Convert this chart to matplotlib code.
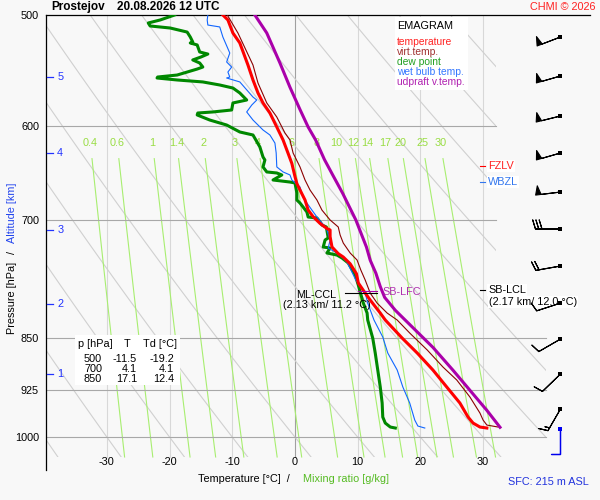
import numpy as np
import matplotlib
matplotlib.use("Agg")
import matplotlib.pyplot as plt
from matplotlib.patches import Rectangle, Polygon
from matplotlib.ticker import NullLocator
import matplotlib.transforms as mtransforms

plt.rcParams['font.family'] = ['Liberation Sans', 'DejaVu Sans']
FS = 7.8

# ---------------- data ----------------
temp_p = [500, 504.1, 515.0, 523.5, 542.8, 556.3, 568.3, 577.7, 587.3, 601.0,
          613.9, 627.5, 638.0, 652.0, 659.5, 666.5, 677.5, 688.8, 696.4, 704.1,
          710.0, 711.7, 719.6, 731.8, 739.9, 744.0, 752.3, 758.5, 764.7, 776.5,
          789.4, 798.5, 815.7, 825.1, 850.0, 871.1, 895.7, 921.0, 945.6, 967.6,
          977.2, 983.6, 985.2]
temp_T = [-11.5, -10.7, -9.9, -8.8, -7.5, -6.7, -5.9, -5.1, -4.0, -2.9,
          -1.9, -1.1, -0.5, 0.0, 0.3, 0.8, 1.6, 2.1, 2.9, 4.0,
          5.1, 5.6, 5.6, 5.9, 6.9, 7.7, 8.8, 9.3, 9.8, 10.1,
          11.2, 12.0, 13.6, 14.4, 17.1, 19.5, 22.0, 24.2, 26.3, 27.6,
          28.4, 29.5, 30.6]

virt_p = [500, 515.0, 542.8, 559.1, 577.7, 591.2, 606.9, 613.9, 627.2, 641.7,
          655.6, 666.5, 677.5, 688.8, 700.1, 708.2, 717.6, 727.1, 739.1, 747.7,
          760.1, 772.7, 789.4, 802.5, 815.7, 825.1, 842.9, 866.8, 891.3, 910.5,
          936.3, 961.3, 972.4, 980.4, 983.6]
virt_T = [-10.8, -9.1, -6.7, -5.9, -4.5, -2.9, -1.6, -0.8, -0.3, 0.8,
          1.6, 2.4, 3.5, 4.3, 5.6, 6.9, 7.2, 7.7, 8.8, 9.9,
          10.5, 11.2, 12.0, 13.1, 14.7, 16.3, 18.3, 21.1, 23.6, 25.8,
          27.9, 29.5, 30.0, 30.6, 32.4]

dew_p = [500, 504.1, 506.6, 509.1, 510.8, 514.2, 518.4, 522.7, 523.5, 525.2,
         531.3, 533.1, 535.7, 538.3, 541.0, 544.6, 546.4, 549.1, 551.8, 553.6,
         554.5, 556.3, 558.1, 560.9, 563.7, 568.3, 574.9, 577.7, 584.4, 586.3,
         587.3, 589.2, 594.1, 599.0, 605.9, 608.9, 621.0, 631.3, 634.4, 641.7,
         647.0, 648.1, 650.2, 655.6, 657.8, 658.8, 669.8, 677.5, 680.9, 685.4,
         691.0, 696.7, 697.8, 702.4, 705.9, 708.2, 721.1, 723.5, 731.9, 733.1,
         739.1, 741.6, 745.2, 750.1, 751.4, 766.3, 779.1, 788.1, 802.5, 815.7,
         825.1, 850.0, 871.1, 895.7, 921.0, 945.6, 967.6, 977.2, 983.6, 985.2]
dew_T = [-19.2, -21.5, -23.4, -23.1, -19.9, -17.2, -16.7, -16.3, -16.7, -15.6,
         -15.2, -13.9, -15.0, -16.3, -15.2, -14.7, -15.6, -17.2, -18.8, -21.9,
         -22.0, -18.8, -14.7, -12.0, -9.9, -8.8, -7.7, -9.9, -10.1, -13.1,
         -15.5, -15.6, -13.6, -10.9, -8.8, -6.7, -5.6, -5.1, -4.8, -5.1,
         -4.5, -2.9, -2.1, -3.5, -0.8, 0.0, 0.3, 0.3, 0.8, 1.3,
         1.9, 2.1, 3.5, 4.0, 4.3, 5.0, 5.3, 4.8, 4.5, 5.6,
         5.1, 6.7, 7.5, 8.3, 8.5, 9.6, 10.1, 10.4, 10.9, 11.5,
         11.6, 12.4, 12.8, 13.2, 13.6, 13.9, 14.0, 14.4, 15.2, 16.0]

wet_p = [500, 504.1, 508.3, 509.9, 518.4, 532.2, 540.1, 544.6, 549.1, 553.6,
         554.5, 558.1, 572.1, 574.9, 579.7, 586.3, 594.1, 603.9, 608.9, 617.0,
         627.2, 641.7, 647.0, 650.2, 655.6, 663.2, 674.2, 680.9, 688.8, 696.7,
         703.6, 709.4, 723.5, 733.1, 737.9, 744.0, 750.1, 772.7, 789.4, 802.5,
         825.1, 848.5, 871.1, 895.7, 921.0, 945.6, 972.4, 982.0, 985.2]
wet_T = [-13.9, -14.0, -13.9, -12.0, -11.5, -10.4, -10.9, -10.1, -10.7, -10.4,
         -10.9, -8.8, -6.7, -6.1, -6.9, -7.7, -6.7, -5.1, -4.0, -3.2,
         -3.0, -2.9, -1.9, -0.8, -0.5, 0.8, 1.3, 1.9, 2.7, 3.5,
         4.3, 5.0, 5.6, 5.3, 6.4, 7.5, 8.3, 9.7, 11.2, 11.6,
         12.6, 14.0, 14.8, 16.3, 17.2, 18.3, 19.1, 19.6, 20.7]

updr_p = [500, 515, 541, 563, 584, 601, 614, 634, 650, 670, 700, 732, 748, 764,
          781, 795, 812, 822, 863, 896, 926, 957, 984]
updr_T = [-6.4, -4.5, -2.4, -0.8, 0.8, 2.1, 3.3, 4.7, 6.0, 7.6, 9.7, 11.4, 12.0,
          12.9, 13.6, 14.3, 16.0, 17.2, 22.0, 25.2, 27.9, 30.6, 32.7]

# wind (direction deg, speed kt) at 0.5 km steps
wind_p = [518.4, 552.7, 590.2, 627.2, 668.7, 710.5, 755.1, 802.5, 851.3, 901.6, 954.9]
wind_dir = [249, 254, 256, 254, 263, 270, 260, 252, 240, 226, 210]
wind_spd = [50, 50, 50, 50, 50, 30, 20, 10, 10, 10, 15]
sfc_p = 986.8
sfc_dir = 180
sfc_spd = 10

# levels
alt_km = [1, 2, 3, 4, 5]
alt_p = [901.6, 804.0, 711.7, 627.5, 553.6]
fzlv_p = 640.7
wbzl_p = 657.8
sblcl_p = 785.5
mlccl_p = 789.4
sblfc_p = 786.8

# table
tbl_p = [500, 700, 850]
tbl_T = [-11.5, 4.1, 17.1]
tbl_Td = [-19.2, 4.1, 12.4]

# grid definitions
p_ticks = [500, 600, 700, 850, 925, 1000]
iso_T = [-30, -20, -10, 0, 10, 20, 30]
isobar_p = [600, 700, 850, 925, 1000]
isobar_tmax = [32.06, 32.06, 40.03, 40.03, 40.03]
theta_list = list(range(-40, 110, 10))
mix_w = [0.4, 0.6, 1, 1.4, 2, 3, 4, 6, 8, 10, 12, 14, 17, 20, 25, 30]

# ---------------- figure ----------------
W, H = 600, 500
BG = '#f8f8f8'
fig = plt.figure(figsize=(6, 5), dpi=100, facecolor=BG)
ax = fig.add_axes([46 / W, 1 - 470 / H, 544 / W, 455 / H])
ax.set_facecolor(BG)
ax.set_yscale('log')
T_LEFT, T_RIGHT = -39.71, 47.05
P_TOP, P_AXBOT, P_BOT = 500.0, 1055.5, 1033.2
ax.set_xlim(T_LEFT, T_RIGHT)
ax.set_ylim(P_AXBOT, P_TOP)
ax.yaxis.set_minor_locator(NullLocator())
ax.set_yticks(p_ticks)
ax.set_yticklabels([str(p) for p in p_ticks], fontsize=FS)
ax.tick_params(axis='y', length=0, pad=5)
ax.set_xticks([])
ax.spines['bottom'].set_visible(False)
ax.spines['right'].set_visible(False)
ax.spines['left'].set_linewidth(0.9)
ax.spines['top'].set_linewidth(0.9)

def fx(x):
    return x / W

def fy(y):
    return 1 - y / H

# isotherms
for t in iso_T:
    ax.plot([t, t], [P_TOP, P_BOT], color='#a0a0a0' if t == 0 else '#d8d8d8',
            lw=0.8, zorder=1)
# isobars
for p, tmax in zip(isobar_p, isobar_tmax):
    ax.plot([T_LEFT, tmax], [p, p], color='#a8a8a8', lw=0.8, zorder=1.5)

# dry adiabats (clipped)
clip = Polygon([(T_LEFT, P_TOP), (32.06, P_TOP), (32.06, 800), (40.03, 800),
                (40.03, P_BOT), (T_LEFT, P_BOT)], closed=True,
               transform=ax.transData, facecolor='none', edgecolor='none')
pp = np.geomspace(P_TOP, P_BOT, 120)
for th in theta_list:
    tt = (th + 273.15) * (pp / 1000.0) ** 0.2857 - 273.15
    ln, = ax.plot(tt, pp, color='#d0d0d0', lw=0.8, zorder=1.1)
    ln.set_clip_path(clip)

# mixing ratio lines
def td_from_w(w, p):
    e = w * p / (622.0 + w)
    a = np.log(e / 6.112)
    return 243.5 * a / (17.67 - a)

pm = np.geomspace(633, P_BOT, 60)
for w in mix_w:
    ax.plot(td_from_w(w, pm), pm, color='#a8ee70', lw=0.8, zorder=1.2)
    ax.text(td_from_w(w, 617.0), 617.0, f'{w:g}', color='#99dd44',
            ha='center', va='center', fontsize=FS, zorder=1.3)

# curves
ax.plot(dew_T, dew_p, color='#008800', lw=2.2, zorder=3, solid_joinstyle='round')
ax.plot(wet_T, wet_p, color='#1166ff', lw=0.8, zorder=3.2)
ax.plot(temp_T, temp_p, color='#ff0000', lw=2.2, zorder=3.4, solid_joinstyle='round')
ax.plot(virt_T, virt_p, color='#8b0000', lw=0.8, zorder=3.6)
ax.plot(updr_T, updr_p, color='#aa00aa', lw=2.2, zorder=3.8, solid_joinstyle='round')

# x tick labels
for t in iso_T:
    ax.text(t, 1041.7, f'{t}', ha='center', va='center', fontsize=FS)

# altitude ticks
btr = mtransforms.blended_transform_factory(ax.transAxes, ax.transData)
for km, p in zip(alt_km, alt_p):
    ax.plot([0.002, 0.013], [p, p], color='#2233ff', lw=0.9, transform=btr,
            clip_on=False, zorder=4)
    ax.text(0.0205, p, str(km), color='#2233ff', fontsize=FS, ha='left',
            va='center', transform=btr)

# level labels
ax.plot([29.51, 30.30], [fzlv_p, fzlv_p], color='#ff0000', lw=0.8, zorder=4)
ax.text(30.78, fzlv_p, 'FZLV', color='#ff2222', fontsize=FS, ha='left', va='center',
        zorder=4, bbox=dict(boxstyle='square,pad=0.1', fc='white', ec='none'))
ax.plot([29.51, 30.30], [wbzl_p, wbzl_p], color='#3377ee', lw=0.8, zorder=4)
ax.text(30.78, wbzl_p, 'WBZL', color='#3377ee', fontsize=FS, ha='left', va='center',
        zorder=4, bbox=dict(boxstyle='square,pad=0.1', fc='white', ec='none'))
ax.plot([29.51, 30.30], [sblcl_p, sblcl_p], color='k', lw=0.8, zorder=4)
ax.text(30.78, sblcl_p, 'SB-LCL', color='k', fontsize=FS, ha='left', va='center',
        zorder=4, bbox=dict(boxstyle='square,pad=0.1', fc='white', ec='none'))
ax.text(37.96, 801.0, '(2.17 km/ 12.0 °C)', color='k', fontsize=FS, ha='center',
        va='center', zorder=4,
        bbox=dict(boxstyle='square,pad=0.1', fc='white', ec='none'))

ax.plot([7.97, 13.08], [mlccl_p, mlccl_p], color='k', lw=0.8, zorder=4)
ax.text(6.54, 792.0, 'ML-CCL', color='k', fontsize=FS, ha='right', va='center', zorder=4)
ax.text(5.02, 805.0, '(2.13 km/ 11.2 °C)', color='k', fontsize=FS, ha='center',
        va='center', zorder=4)
ax.plot([10.05, 13.08], [sblfc_p, sblfc_p], color='#aa00aa', lw=0.8, zorder=4)
ax.text(13.88, 788.1, 'SB-LFC', color='#b030b0', fontsize=FS, ha='left',
        va='center', zorder=4)

# wind barbs
BARB_T = 42.34
d = np.radians(wind_dir)
U = -np.array(wind_spd) * np.sin(d)
V = -np.array(wind_spd) * np.cos(d)
ax.barbs(np.full(len(wind_p), BARB_T), wind_p, U, V, length=6, pivot='tip',
         sizes=dict(spacing=0.13, height=0.36, width=0.22), linewidth=0.8,
         color='k', zorder=6, clip_on=False)
ax.plot([BARB_T] * len(wind_p), wind_p, 's', ms=2.6, color='k', mew=0, zorder=7,
        clip_on=False)
ds = np.radians(sfc_dir)
ax.barbs([BARB_T], [sfc_p], [-sfc_spd * np.sin(ds)], [-sfc_spd * np.cos(ds)],
         length=6, pivot='tip', sizes=dict(spacing=0.13, height=0.36, width=0.0),
         linewidth=0.9, color='#0000ee', zorder=6, clip_on=False)
ax.plot([BARB_T], [sfc_p], 's', ms=2.6, color='#0000ee', mew=0, zorder=7, clip_on=False)

# legend box
fig.patches.append(Rectangle((fx(395), fy(90)), fx(468) - fx(395), fy(17) - fy(90),
                             transform=fig.transFigure, fc='white', ec='none', zorder=5))
fig.text(fx(397), fy(26), 'EMAGRAM', fontsize=FS, va='center', ha='left', zorder=6)
leg = [('temperature', '#ff2222'), ('virt.temp.', '#a03030'), ('dew point', '#22a022'),
       ('wet bulb temp.', '#3377ff'), ('udpraft v.temp.', '#b020b0')]
for i, (txt, c) in enumerate(leg):
    fig.text(fx(397), fy(42 + 10 * i), txt, color=c, fontsize=FS - 0.4, va='center',
             ha='left', zorder=6)

# table
fig.patches.append(Rectangle((fx(75), fy(385)), fx(180) - fx(75), fy(335) - fy(385),
                             transform=fig.transFigure, fc='white', ec='none', zorder=5))
fig.text(fx(78), fy(344), 'p [hPa]', fontsize=FS, va='center', ha='left', zorder=6)
fig.text(fx(127), fy(344), 'T', fontsize=FS, va='center', ha='center', zorder=6)
fig.text(fx(143), fy(344), 'Td [°C]', fontsize=FS, va='center', ha='left', zorder=6)
for i, (p, t, td) in enumerate(zip(tbl_p, tbl_T, tbl_Td)):
    yy = fy(359 + 10 * i)
    fig.text(fx(102), yy, f'{p}', fontsize=FS, va='center', ha='right', zorder=6)
    fig.text(fx(137), yy, f'{t:.1f}', fontsize=FS, va='center', ha='right', zorder=6)
    fig.text(fx(174), yy, f'{td:.1f}', fontsize=FS, va='center', ha='right', zorder=6)

# titles and axis labels
fig.text(fx(51), fy(7), 'Prostejov', fontsize=8.5, weight='bold', va='center', ha='left')
fig.text(fx(117), fy(7), '20.08.2026 12 UTC', fontsize=8.5, weight='bold',
         va='center', ha='left')
fig.text(fx(596), fy(7), 'CHMI © 2026', fontsize=FS, color='#ff2020', va='center',
         ha='right')
fig.text(fx(12), fy(298), 'Pressure [hPa]', fontsize=FS, rotation=90, ha='center',
         va='center')
fig.text(fx(12), fy(253), '/', fontsize=FS, rotation=90, ha='center', va='center')
fig.text(fx(12), fy(213), 'Altitude [km]', fontsize=FS, rotation=90, ha='center',
         va='center', color='#2244ee')
fig.text(fx(198), fy(479), 'Temperature [°C]  /', fontsize=FS, ha='left', va='center')
fig.text(fx(303), fy(479), 'Mixing ratio [g/kg]', fontsize=FS, ha='left', va='center',
         color='#55bb22')
fig.text(fx(589), fy(482), 'SFC: 215 m ASL', fontsize=FS, ha='right', va='center',
         color='#2233dd')

fig.savefig('out.png', dpi=100, facecolor=BG)
